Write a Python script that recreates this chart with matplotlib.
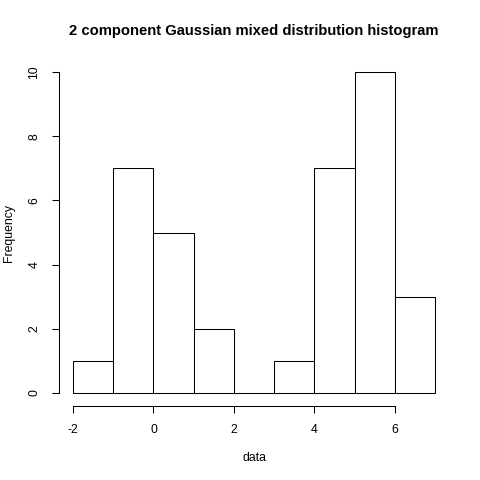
import matplotlib
matplotlib.use("Agg")
import matplotlib.pyplot as plt

bin_edges = [-2, -1, 0, 1, 2, 3, 4, 5, 6, 7]
counts = [1, 7, 5, 2, 0, 1, 7, 10, 3]
x_ticks = [-2, 0, 2, 4, 6]
y_ticks = [0, 2, 4, 6, 8, 10]
title = "2 component Gaussian mixed distribution histogram"

plt.rcParams['font.family'] = ['Liberation Sans', 'DejaVu Sans']
W = H = 480
fig = plt.figure(figsize=(4.8, 4.8), dpi=100)
L, R, T, B = 58.5, 449.7, 59.2, 405.8
ax = fig.add_axes([L / W, 1 - B / H, (R - L) / W, (B - T) / H])

lefts = bin_edges[:-1]
widths = [b - a for a, b in zip(bin_edges[:-1], bin_edges[1:])]
ax.bar(lefts, counts, width=widths, align='edge', facecolor='white',
       edgecolor='black', linewidth=0.75)

ax.set_xlim(-2.36, 7.36)
ax.set_ylim(-0.4, 10.4)
for s in ['top', 'right']:
    ax.spines[s].set_visible(False)
ax.spines['bottom'].set_bounds(x_ticks[0], x_ticks[-1])
ax.spines['left'].set_bounds(y_ticks[0], y_ticks[-1])
for s in ['bottom', 'left']:
    ax.spines[s].set_linewidth(0.75)
ax.set_xticks(x_ticks)
ax.set_yticks(y_ticks)
ax.set_xticklabels([str(v) for v in x_ticks])
ax.set_yticklabels([str(v) for v in y_ticks], rotation=90, va='center')
ax.tick_params(length=5, width=0.75, labelsize=8.8, pad=8)
ax.tick_params(axis='y', pad=8)

fig.text(0.5 * (L + R) / W, 1 - 31 / H, title, ha='center', va='center',
         fontsize=10.6, fontweight='bold')
fig.text(0.5 * (L + R) / W, 1 - 458 / H, "data", ha='center', va='center', fontsize=8.8)
fig.text(9 / W, 1 - 0.5 * (T + B) / H, "Frequency", ha='center', va='center',
         rotation=90, fontsize=8.8)

fig.savefig("out.png", dpi=100, facecolor='white')
